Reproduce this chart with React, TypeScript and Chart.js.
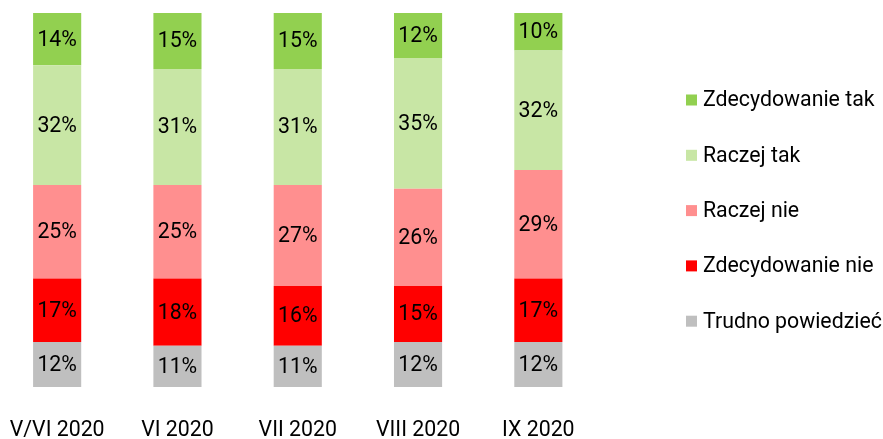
import React, { useEffect, useRef } from 'react';
import { Chart, registerables } from 'chart.js';

Chart.register(...registerables);

const categories = ['V/VI 2020', 'VI 2020', 'VII 2020', 'VIII 2020', 'IX 2020'];
const seriesNames = ['Trudno powiedzieć', 'Zdecydowanie nie', 'Raczej nie', 'Raczej tak', 'Zdecydowanie tak'];
const trudnoPowiedziec = [12, 11, 11, 12, 12];
const zdecydowanieNie = [17, 18, 16, 15, 17];
const raczejNie = [25, 25, 27, 26, 29];
const raczejTak = [32, 31, 31, 35, 32];
const zdecydowanieTak = [14, 15, 15, 12, 10];
const seriesColors = ['#BFBFBF', '#FF0000', '#FF8F8F', '#C8E6A5', '#92D050'];

const FONT = 'Roboto';
const FONT_SIZE = 21.3;

const dataLabelPlugin = {
  id: 'dataLabels',
  afterDatasetsDraw(chart: any) {
    const ctx = chart.ctx;
    ctx.save();
    ctx.font = `${FONT_SIZE}px ${FONT}`;
    ctx.fillStyle = '#000';
    ctx.textAlign = 'center';
    ctx.textBaseline = 'middle';
    chart.data.datasets.forEach((ds: any, i: number) => {
      const meta = chart.getDatasetMeta(i);
      meta.data.forEach((el: any, j: number) => {
        const p = el.getProps(['x', 'y', 'base'], true);
        ctx.fillText(ds.data[j] + '%', p.x, (p.y + p.base) / 2 + 1);
      });
    });
    ctx.restore();
  },
};

const legendPlugin = {
  id: 'sideLegend',
  afterDraw(chart: any) {
    const ctx = chart.ctx;
    const boxX = 689;
    const startY = 100;
    const step = 55.3;
    ctx.save();
    ctx.font = `${FONT_SIZE}px ${FONT}`;
    ctx.textAlign = 'left';
    ctx.textBaseline = 'middle';
    const n = chart.data.datasets.length;
    for (let k = 0; k < n; k++) {
      const ds = chart.data.datasets[n - 1 - k];
      const cy = startY + k * step;
      ctx.fillStyle = ds.backgroundColor;
      ctx.fillRect(boxX, cy - 5.5, 11, 11);
      ctx.fillStyle = '#000';
      ctx.fillText(ds.label, boxX + 17, cy + 1);
    }
    ctx.restore();
  },
};

export default function App() {
  const canvasRef = useRef<HTMLCanvasElement | null>(null);

  useEffect(() => {
    if (!canvasRef.current) return;
    const seriesValues = [trudnoPowiedziec, zdecydowanieNie, raczejNie, raczejTak, zdecydowanieTak];
    const chart = new Chart(canvasRef.current, {
      type: 'bar',
      data: {
        labels: categories,
        datasets: seriesValues.map((vals, i) => ({
          label: seriesNames[i],
          data: vals,
          backgroundColor: seriesColors[i],
          borderWidth: 0,
          categoryPercentage: 1,
          barPercentage: 0.4,
        })),
      },
      options: {
        animation: false,
        responsive: true,
        maintainAspectRatio: false,
        layout: { padding: { top: 13, right: 284.5, left: 0, bottom: 0 } },
        plugins: {
          legend: { display: false },
          tooltip: { enabled: false },
        },
        scales: {
          x: {
            stacked: true,
            grid: { display: false, drawTicks: false },
            border: { display: false },
            ticks: { padding: 31, maxRotation: 0, minRotation: 0, color: '#000', font: { family: FONT, size: FONT_SIZE } },
            afterFit(scale: any) {
              scale.height = 52;
              scale.paddingLeft = 0;
              scale.paddingRight = 0;
            },
          },
          y: {
            stacked: true,
            display: false,
            min: 0,
            max: 100,
          },
        },
      },
      plugins: [dataLabelPlugin, legendPlugin],
    });
    return () => chart.destroy();
  }, []);

  return (
    <div style={{ position: 'absolute', left: -3, top: 0, width: 886, height: 439 }}>
      <canvas ref={canvasRef} />
    </div>
  );
}
